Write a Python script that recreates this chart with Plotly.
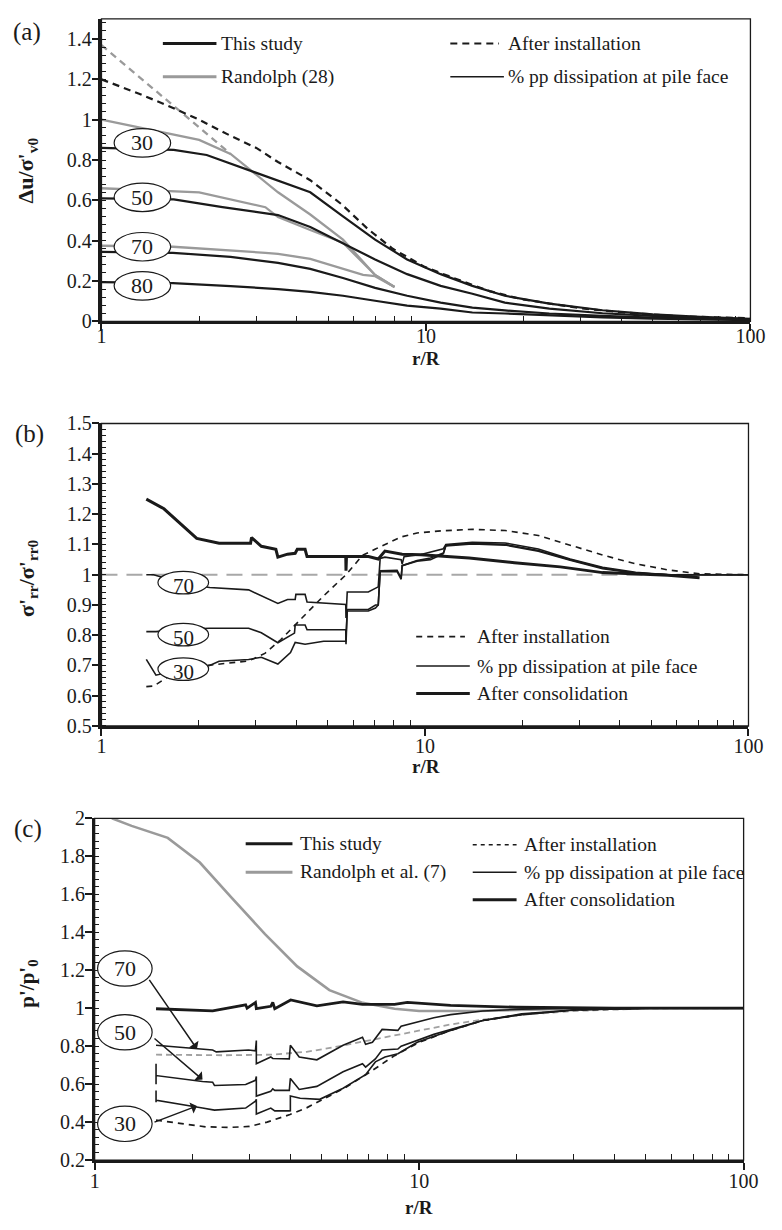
import numpy as np
import plotly.graph_objects as go

W, H = 782, 1230
FONT = "Liberation Serif, Times New Roman, Times, serif"
BLACK = "#1a1a1a"
GRAY = "#9a9a9a"

def PX(x):
    return x / W

def PY(y):
    return 1 - y / H

# ---------------- Panel (a) data: excess pore pressure ----------------
a_r_inst = [1, 1.3, 1.6, 2.0, 2.5, 3.0, 3.5, 4.4, 5.5, 6.6, 7.9, 9.9, 12.4, 15.7, 19.7, 24, 30, 40, 60, 100]
a_v_inst = [1.2, 1.13, 1.07, 1.0, 0.92, 0.86, 0.79, 0.70, 0.58, 0.46, 0.36, 0.27, 0.21, 0.15, 0.11, 0.088, 0.065, 0.045, 0.025, 0.015]

a_r_30 = [1, 1.67, 2.11, 2.84, 3.5, 4.4, 5.55, 6.97, 8.75, 11.1, 13.9, 17.5, 24, 35, 50, 70, 100]
a_v_30 = [0.86, 0.85, 0.825, 0.75, 0.70, 0.64, 0.52, 0.405, 0.307, 0.234, 0.176, 0.127, 0.088, 0.055, 0.035, 0.022, 0.012]
a_r_50 = [1, 1.67, 2.36, 3.5, 4.4, 5.55, 6.97, 8.75, 11.1, 13.9, 17.5, 24, 35, 50, 70, 100]
a_v_50 = [0.61, 0.605, 0.566, 0.527, 0.468, 0.385, 0.307, 0.234, 0.176, 0.137, 0.093, 0.063, 0.04, 0.027, 0.018, 0.01]
a_r_70 = [1, 1.66, 2.5, 3.5, 4.4, 5.55, 6.97, 8.75, 11.1, 13.9, 17.5, 24, 35, 50, 100]
a_v_70 = [0.345, 0.34, 0.32, 0.29, 0.26, 0.215, 0.166, 0.127, 0.093, 0.068, 0.054, 0.039, 0.027, 0.018, 0.008]
a_r_80 = [1, 1.66, 2.5, 3.5, 4.4, 5.55, 6.97, 8.75, 11.1, 13.9, 17.5, 24, 35, 50, 100]
a_v_80 = [0.195, 0.19, 0.175, 0.16, 0.146, 0.127, 0.102, 0.078, 0.063, 0.044, 0.039, 0.03, 0.02, 0.014, 0.006]

a_r_rinst = [1, 2.5]
a_v_rinst = [1.37, 0.83]
a_r_r30 = [1, 1.63, 2.0, 2.5, 3.5, 4.4, 5.55, 6.97, 8.0]
a_v_r30 = [1.0, 0.93, 0.90, 0.83, 0.64, 0.53, 0.405, 0.23, 0.17]
a_r_r50 = [1, 1.67, 2.0, 3.2, 3.5, 4.4, 5.55, 6.97, 8.0]
a_v_r50 = [0.66, 0.645, 0.64, 0.566, 0.517, 0.453, 0.39, 0.23, 0.17]
a_r_r70 = [1, 1.66, 3.2, 3.5, 4.4, 5.55, 6.4, 6.97, 8.0]
a_v_r70 = [0.375, 0.37, 0.34, 0.335, 0.31, 0.26, 0.23, 0.224, 0.17]

a_lbl = ["30", "50", "70", "80"]
a_lbl_v = [0.885, 0.615, 0.37, 0.176]
a_lbl_r = 1.337

# ---------------- Panel (b) data: radial effective stress ----------------
b_ref_r = [1, 100]
b_ref_v = [1.0, 1.0]

b_r_inst = [1.376, 1.45, 1.7, 2.115, 2.85, 3.2, 3.58, 4.03, 4.86, 5.7, 6.41, 7.03, 7.52, 8.44, 9.45, 11.2, 14.0, 17.7, 22.4, 28.1, 35.4, 44.8, 56.4, 70.6, 100]
b_v_inst = [0.63, 0.632, 0.68, 0.70, 0.715, 0.74, 0.785, 0.84, 0.93, 1.0, 1.064, 1.085, 1.10, 1.125, 1.138, 1.145, 1.15, 1.146, 1.13, 1.097, 1.065, 1.036, 1.016, 1.003, 1.0]

b_r_cons = [1.376, 1.56, 1.97, 2.31, 2.89, 2.91, 3.12, 3.46, 3.51, 3.76, 3.97, 4.03, 4.26, 4.32, 5.69, 5.70, 5.72, 6.69, 7.17, 7.52, 8.5, 9.72, 11.6, 13.7, 18.9, 26.2, 35.4, 56.4, 70.6]
b_v_cons = [1.25, 1.218, 1.12, 1.104, 1.104, 1.123, 1.094, 1.084, 1.058, 1.068, 1.071, 1.084, 1.084, 1.06, 1.06, 1.013, 1.06, 1.06, 1.052, 1.078, 1.068, 1.066, 1.06, 1.055, 1.04, 1.026, 1.007, 0.998, 0.99]

b_r_70 = [1.376, 1.45, 1.8, 2.16, 2.85, 3.12, 3.51, 3.76, 3.97, 3.99, 4.26, 4.32, 5.0, 5.69, 5.70, 5.75, 6.68, 7.17, 7.27, 7.52, 8.44, 8.5, 8.62, 9.72, 11.4, 11.6, 14.0, 17.7, 22.4, 28.1, 35.4, 44.8, 56.4, 100]
b_v_70 = [1.0, 1.0, 0.97, 0.958, 0.95, 0.93, 0.905, 0.918, 0.918, 0.935, 0.935, 0.91, 0.905, 0.902, 0.857, 0.943, 0.943, 0.96, 1.054, 1.058, 1.05, 1.035, 1.06, 1.067, 1.086, 1.10, 1.107, 1.105, 1.085, 1.052, 1.025, 1.008, 1.0, 1.0]

b_r_50 = [1.376, 1.474, 1.8, 2.16, 2.85, 3.12, 3.51, 3.95, 3.97, 4.26, 4.32, 5.69, 5.70, 5.75, 6.68, 7.03, 7.17, 7.27, 8.2, 8.44, 8.5, 9.45, 10.4, 11.4, 11.6, 14.0, 17.7, 22.4, 28.1, 35.4, 44.8, 56.4, 100]
b_v_50 = [0.812, 0.812, 0.82, 0.823, 0.823, 0.808, 0.775, 0.807, 0.834, 0.834, 0.818, 0.818, 0.77, 0.885, 0.885, 0.90, 0.90, 1.013, 1.015, 0.99, 1.03, 1.047, 1.055, 1.072, 1.097, 1.105, 1.10, 1.08, 1.05, 1.022, 1.006, 1.0, 1.0]

b_r_30 = [1.376, 1.474, 1.8, 2.16, 2.31, 2.85, 3.12, 3.51, 3.84, 3.97, 4.26, 4.86, 5.69, 5.75, 6.68, 7.03, 7.17, 7.27, 8.2, 8.44, 8.5, 9.45, 10.4, 11.4, 11.6, 14.0, 17.7, 22.4, 28.1, 35.4, 44.8, 56.4, 100]
b_v_30 = [0.72, 0.668, 0.69, 0.70, 0.714, 0.72, 0.727, 0.705, 0.743, 0.776, 0.77, 0.78, 0.78, 0.88, 0.88, 0.89, 0.90, 1.01, 1.01, 0.985, 1.03, 1.045, 1.05, 1.07, 1.095, 1.102, 1.098, 1.078, 1.048, 1.02, 1.005, 1.0, 1.0]

b_lbl = ["70", "50", "30"]
b_lbl_v = [0.974, 0.802, 0.688]
b_lbl_r = 1.79

# ---------------- Panel (c) data: mean effective stress ----------------
c_r_rand = [1.13, 1.3, 1.68, 2.11, 2.65, 3.35, 4.21, 5.29, 6.7, 8.4, 10, 15, 25, 50, 100]
c_v_rand = [2.0, 1.96, 1.897, 1.767, 1.58, 1.39, 1.22, 1.095, 1.028, 0.997, 0.985, 0.985, 0.995, 1.0, 1.0]

c_r_this = [1.546, 2.31, 2.92, 2.95, 3.13, 3.15, 3.49, 3.54, 3.59, 4.02, 4.84, 5.83, 6.69, 8.4, 9.2, 12.5, 20, 40, 100]
c_v_this = [0.997, 0.986, 1.018, 1.0, 1.03, 0.997, 1.01, 1.03, 0.997, 1.043, 1.012, 1.033, 1.02, 1.02, 1.03, 1.015, 1.005, 1.0, 1.0]

c_r_inst = [1.546, 1.8, 2.2, 2.6, 3.0, 3.4, 4.0, 4.5, 5.0, 5.9, 7.0, 8.4, 10, 12.5, 15.7, 20.7, 30, 50, 100]
c_v_inst = [0.41, 0.395, 0.375, 0.372, 0.377, 0.40, 0.44, 0.475, 0.515, 0.58, 0.66, 0.75, 0.82, 0.883, 0.935, 0.966, 0.99, 1.0, 1.0]

c_r_rinst = [1.546, 2.5, 3.5, 4.5, 5.5, 7.0, 8.5, 10, 12.5, 15.7, 20.7, 30, 50, 100]
c_v_rinst = [0.755, 0.752, 0.755, 0.77, 0.795, 0.83, 0.86, 0.885, 0.914, 0.94, 0.965, 0.985, 0.998, 1.0]

c_r_70 = [1.546, 2.31, 2.37, 2.98, 3.13, 3.15, 3.15, 3.49, 3.54, 3.98, 4.01, 4.27, 4.84, 5.83, 6.69, 6.84, 7.18, 7.69, 8.6, 8.8, 11.1, 12.5, 15.7, 20.7, 30, 50, 100]
c_v_70 = [0.805, 0.78, 0.77, 0.78, 0.775, 0.83, 0.707, 0.743, 0.735, 0.733, 0.805, 0.743, 0.728, 0.805, 0.847, 0.81, 0.82, 0.888, 0.883, 0.905, 0.95, 0.966, 0.985, 0.995, 1.0, 1.0, 1.0]

c_r_50 = [1.546, 1.546, 1.546, 2.15, 2.31, 2.34, 2.92, 3.13, 3.15, 3.15, 3.49, 3.54, 3.59, 3.98, 4.01, 4.27, 4.84, 5.83, 6.69, 6.84, 7.33, 7.69, 8.6, 8.8, 11.1, 12.5, 15.7, 20.7, 30, 50, 100]
c_v_50 = [0.707, 0.60, 0.645, 0.614, 0.61, 0.593, 0.598, 0.62, 0.64, 0.537, 0.562, 0.575, 0.567, 0.567, 0.63, 0.572, 0.588, 0.665, 0.707, 0.69, 0.733, 0.78, 0.785, 0.80, 0.862, 0.888, 0.935, 0.97, 0.99, 1.0, 1.0]

c_r_30 = [1.546, 1.546, 1.546, 2.15, 2.34, 2.92, 3.13, 3.15, 3.15, 3.49, 3.59, 3.98, 4.01, 4.01, 4.30, 4.94, 5.83, 6.84, 7.33, 7.85, 8.6, 9.87, 12.5, 15.7, 20.7, 30, 50, 100]
c_v_30 = [0.567, 0.505, 0.515, 0.474, 0.463, 0.474, 0.51, 0.52, 0.443, 0.474, 0.459, 0.459, 0.46, 0.537, 0.526, 0.52, 0.578, 0.65, 0.717, 0.743, 0.76, 0.82, 0.883, 0.935, 0.966, 0.99, 1.0, 1.0]

c_lbl = ["70", "50", "30"]
c_lbl_v = [1.209, 0.873, 0.391]
c_lbl_r = 1.239
# arrows: label -> curve (tail r, tail v, head r, head v)
c_arrow_tail_r = [1.463, 1.513, 1.513]
c_arrow_tail_v = [1.157, 0.847, 0.397]
c_arrow_head_r = [2.067, 2.15, 2.067]
c_arrow_head_v = [0.785, 0.624, 0.485]

ticks_x = [1, 10, 100]
minor_x = [2, 3, 4, 5, 6, 7, 8, 9, 20, 30, 40, 50, 60, 70, 80, 90]

fig = go.Figure()


def add_line(ax, r, v, color, width, dash="solid"):
    fig.add_trace(go.Scatter(
        x=r, y=v, mode="lines", xaxis="x" + ax, yaxis="y" + ax,
        line=dict(color=color, width=width, dash=dash),
        showlegend=False, hoverinfo="skip"))


# Panel (a)
add_line("", a_r_r30, a_v_r30, GRAY, 2.3)
add_line("", a_r_r50, a_v_r50, GRAY, 2.3)
add_line("", a_r_r70, a_v_r70, GRAY, 2.3)
add_line("", a_r_rinst, a_v_rinst, GRAY, 2.3, "7px,5px")
add_line("", a_r_inst, a_v_inst, BLACK, 2.2, "7px,5px")
add_line("", a_r_30, a_v_30, BLACK, 2.2)
add_line("", a_r_50, a_v_50, BLACK, 2.2)
add_line("", a_r_70, a_v_70, BLACK, 2.2)
add_line("", a_r_80, a_v_80, BLACK, 2.2)

# Panel (b)
add_line("2", b_ref_r, b_ref_v, "#a8a8a8", 2, "16px,9px")
add_line("2", b_r_inst, b_v_inst, BLACK, 1.6, "6px,5px")
add_line("2", b_r_70, b_v_70, BLACK, 1.6)
add_line("2", b_r_50, b_v_50, BLACK, 1.6)
add_line("2", b_r_30, b_v_30, BLACK, 1.6)
add_line("2", b_r_cons, b_v_cons, BLACK, 3)

# Panel (c)
add_line("3", c_r_rand, c_v_rand, GRAY, 2.6)
add_line("3", c_r_rinst, c_v_rinst, "#a0a0a0", 1.8, "6px,4px")
add_line("3", c_r_inst, c_v_inst, BLACK, 1.7, "6px,5px")
add_line("3", c_r_70, c_v_70, BLACK, 1.6)
add_line("3", c_r_50, c_v_50, BLACK, 1.6)
add_line("3", c_r_30, c_v_30, BLACK, 1.6)
add_line("3", c_r_this, c_v_this, BLACK, 2.8)

tickfont = dict(family=FONT, size=20, color=BLACK)


def xcfg(domain, anchor, standoff):
    return dict(type="log", range=[0, 2], domain=domain, anchor=anchor,
                tickmode="array", tickvals=ticks_x, ticktext=[str(t) for t in ticks_x],
                ticks="outside", ticklen=7, tickwidth=1.5, tickcolor=BLACK,
                ticklabelstandoff=standoff,
                minor=dict(tickmode="array", tickvals=minor_x, ticks="inside",
                           ticklen=6, tickwidth=1.2, tickcolor=BLACK),
                showline=True, linewidth=2.5, linecolor=BLACK,
                showgrid=False, zeroline=False, tickfont=tickfont)


def ycfg(domain, anchor, rng, dtick, mdtick):
    return dict(range=rng, domain=domain, anchor=anchor, tickmode="linear",
                tick0=rng[0], dtick=dtick, ticks="outside", ticklen=7,
                tickwidth=1.5, tickcolor=BLACK, ticklabelstandoff=-4,
                minor=dict(tickmode="linear", tick0=rng[0], dtick=mdtick, ticks="inside",
                           ticklen=5, tickwidth=1.1, tickcolor=BLACK),
                showline=True, linewidth=2.5, linecolor=BLACK,
                showgrid=False, zeroline=False, tickfont=tickfont)


# plot-area pixel geometry (used for label ellipse sizes)
pa = dict(a=(99, 765, 8, 316), b=(99, 763, 420, 728), c=(92, 758, 822, 1170))

fig.update_layout(
    width=W, height=H, margin=dict(l=0, r=0, t=0, b=0),
    paper_bgcolor="white", plot_bgcolor="white", showlegend=False,
    font=dict(family=FONT, color=BLACK),
    xaxis=xcfg([PX(pa["a"][0]), PX(pa["a"][1])], "y", -12),
    yaxis=ycfg([PY(pa["a"][3]), PY(pa["a"][2])], "x", [0, 1.5], 0.2, 0.04),
    xaxis2=xcfg([PX(pa["b"][0]), PX(pa["b"][1])], "y2", -7),
    yaxis2=ycfg([PY(pa["b"][3]), PY(pa["b"][2])], "x2", [0.5, 1.5], 0.1, 0.02),
    xaxis3=xcfg([PX(pa["c"][0]), PX(pa["c"][1])], "y3", -6),
    yaxis3=ycfg([PY(pa["c"][3]), PY(pa["c"][2])], "x3", [0.2, 2.0], 0.2, 0.04),
)

shapes = []
annotations = []

# frames
for ax in ["", "2", "3"]:
    shapes.append(dict(type="rect", xref="x" + ax + " domain", yref="y" + ax + " domain",
                       x0=0, x1=1, y0=0, y1=1, line=dict(color=BLACK, width=1.3), layer="above"))


def ellipses(ax, key, yrng, r, vals, labels, hw, hh, fsize, dy=0):
    x0p, x1p, y0p, y1p = pa[key]
    dec_px = (x1p - x0p) / 2.0
    v_per_px = (yrng[1] - yrng[0]) / (y1p - y0p)
    for v, t in zip(vals, labels):
        shapes.append(dict(type="circle", xref="x" + ax, yref="y" + ax,
                           x0=r * 10 ** (-hw / dec_px), x1=r * 10 ** (hw / dec_px),
                           y0=v - hh * v_per_px, y1=v + hh * v_per_px,
                           fillcolor="white", line=dict(color=BLACK, width=1.2), layer="above"))
        annotations.append(dict(x=np.log10(r), y=v, xref="x" + ax, yref="y" + ax,
                                text=t, showarrow=False, yshift=dy,
                                font=dict(family=FONT, size=fsize, color=BLACK)))


ellipses("", "a", [0, 1.5], a_lbl_r, a_lbl_v, a_lbl, 29, 14.5, 22)
ellipses("2", "b", [0.5, 1.5], b_lbl_r, b_lbl_v, b_lbl, 26, 11.5, 21, -3)
ellipses("3", "c", [0.2, 2.0], c_lbl_r, c_lbl_v, c_lbl, 28, 18, 22)

for tr, tv, hr, hv in zip(c_arrow_tail_r, c_arrow_tail_v, c_arrow_head_r, c_arrow_head_v):
    annotations.append(dict(x=np.log10(hr), y=hv, ax=np.log10(tr), ay=tv,
                            xref="x3", yref="y3", axref="x3", ayref="y3",
                            text="", showarrow=True, arrowhead=1, arrowsize=1.3,
                            arrowwidth=1.5, arrowcolor=BLACK))


def legend_item(x0, x1, y, color, width, dash, text, tx):
    shapes.append(dict(type="line", xref="paper", yref="paper",
                       x0=PX(x0), x1=PX(x1), y0=PY(y), y1=PY(y),
                       line=dict(color=color, width=width, dash=dash)))
    annotations.append(dict(x=PX(tx), y=PY(y), xref="paper", yref="paper",
                            text=text, showarrow=False, xanchor="left", yanchor="middle",
                            font=dict(family=FONT, size=19.5, color=BLACK)))


# legend (a)
legend_item(162, 217, 33, BLACK, 3, "solid", "This study", 220)
legend_item(162, 217, 67, GRAY, 3, "solid", "Randolph (28)", 220)
legend_item(457, 507, 33, BLACK, 2, "7px,5px", "After installation", 514)
legend_item(457, 512, 67, BLACK, 1.5, "solid", "% pp dissipation at pile face", 514)
# legend (b)
legend_item(422, 472, 637, BLACK, 1.6, "6px,5px", "After installation", 482)
legend_item(422, 477, 667, BLACK, 1.5, "solid", "% pp dissipation at pile face", 482)
legend_item(422, 477, 695, BLACK, 3, "solid", "After consolidation", 482)
# legend (c)
legend_item(247, 295, 848, BLACK, 3, "solid", "This study", 301)
legend_item(247, 295, 877, GRAY, 3, "solid", "Randolph et al. (7)", 301)
legend_item(480, 525, 849, BLACK, 1.6, "4px,4px", "After installation", 531)
legend_item(480, 525, 877, BLACK, 1.5, "solid", "% pp dissipation at pile face", 531)
legend_item(480, 525, 905, BLACK, 3, "solid", "After consolidation", 531)


def text(x, y, t, size, angle=0, bold=False):
    annotations.append(dict(x=PX(x), y=PY(y), xref="paper", yref="paper",
                            text=("<b>%s</b>" % t) if bold else t, showarrow=False,
                            textangle=angle, xanchor="center", yanchor="middle",
                            font=dict(family=FONT, size=size, color=BLACK)))


text(23, 21, "(a)", 25)
text(25, 431, "(b)", 25)
text(24, 833, "(c)", 25)
text(432, 354, "r/R", 19, bold=True)
text(432, 769, "r/R", 19, bold=True)
text(425, 1218, "r/R", 19, bold=True)
text(23, 162, "Δu/σ'<sub>v0</sub>", 22, -90, True)
text(23, 577, "σ'<sub>rr</sub>/σ'<sub>rr0</sub>", 22, -90, True)
text(24, 990, "p'/p'<sub>0</sub>", 21, -90, True)

fig.update_layout(shapes=shapes, annotations=annotations)
fig.write_html("out.html")
